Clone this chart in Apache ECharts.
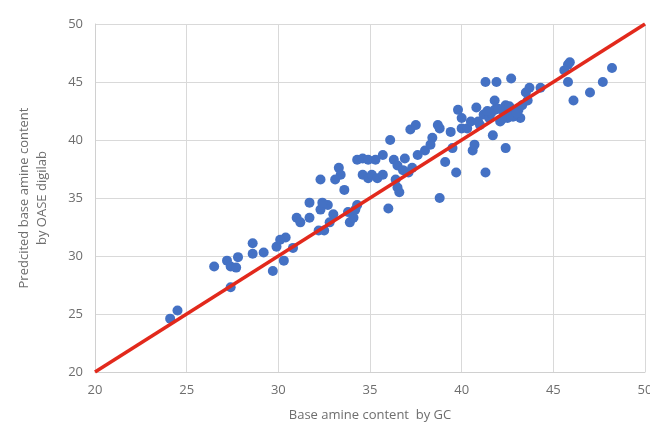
<!DOCTYPE html>
<html>
<head>
<meta charset="utf-8">
<script src="https://cdn.jsdelivr.net/npm/echarts@6/dist/echarts.min.js"></script>
<style>
  html, body { margin: 0; padding: 0; background: #fff; }
  #chart { width: 650px; height: 430px; }
</style>
</head>
<body>
<div id="chart"></div>
<script>
// 读图估计的数据：GC 测得值 vs OASE digilab 预测值
const gcValues = [
  24.1, 24.5, 27.4, 26.5, 27.2, 27.8, 27.4, 27.7, 28.6, 28.6, 29.2, 29.7, 29.9, 30.4, 30.3,
  30.1, 30.8, 31.0, 31.2, 31.7, 32.2, 32.3, 32.5, 32.7, 32.8, 33.0, 31.7, 32.4,
  33.3, 33.4, 33.1, 32.3, 33.6, 33.8, 33.9, 34.1, 34.2, 34.3,
  34.3, 34.6, 34.9, 35.3, 35.7, 34.6, 34.9, 35.1, 35.4, 35.7, 36.0, 36.1,
  36.4, 36.5, 36.6, 36.3, 36.5, 36.8, 37.1, 37.3, 36.9, 37.2, 37.5, 37.6,
  38.0, 38.3, 38.4, 38.7, 38.8, 38.8, 39.1, 39.4, 39.5, 39.7, 39.8, 40.0,
  40.0, 40.3, 40.5, 40.6, 40.7, 40.8, 41.0, 41.2, 41.3, 41.3, 41.5, 41.7,
  41.8, 41.8, 41.9, 42.1, 42.3, 42.4, 42.4, 42.5, 42.6, 42.7, 42.9, 43.1,
  43.2, 43.3, 43.5, 43.6, 43.7, 44.3, 45.6, 45.8, 45.9, 45.8, 46.1, 47.0,
  47.7, 48.2, 41.6, 42.0, 42.2, 42.8, 43.0, 41.4, 40.9, 42.6
]
const predictedValues = [
  24.6, 25.3, 27.3, 29.1, 29.6, 29.9, 29.1, 29.0, 31.1, 30.2, 30.3, 28.7, 30.8, 31.6, 29.6,
  31.4, 30.7, 33.3, 32.9, 33.3, 32.2, 34.0, 32.2, 34.4, 32.9, 33.6, 34.6, 34.6,
  37.6, 37.0, 36.6, 36.6, 35.7, 33.8, 32.9, 33.3, 34.0, 34.4,
  38.3, 38.4, 38.3, 38.3, 38.7, 37.0, 36.7, 37.0, 36.7, 37.0, 34.1, 40.0,
  36.6, 35.9, 35.5, 38.3, 37.8, 37.4, 37.2, 37.6, 38.4, 40.9, 41.3, 38.7,
  39.1, 39.6, 40.2, 41.3, 41.0, 35.0, 38.1, 40.7, 39.3, 37.2, 42.6, 41.9,
  41.0, 41.0, 41.6, 39.1, 39.6, 42.8, 41.3, 42.2, 45.0, 37.2, 41.9, 40.4,
  42.6, 43.4, 45.0, 41.6, 42.4, 39.3, 43.0, 41.9, 42.6, 45.3, 42.2, 42.6,
  41.9, 43.0, 44.1, 43.4, 44.5, 44.5, 46.0, 46.5, 46.7, 45.0, 43.4, 44.1,
  45.0, 46.2, 42.3, 42.7, 41.8, 42.0, 42.3, 42.5, 41.6, 42.9
]
const axisMin = 20
const axisMax = 50
const tickStep = 5
const parityLine = [[20, 20], [50, 50]]

const points = gcValues.map((x, i) => [x, predictedValues[i]])

const chart = echarts.init(document.getElementById('chart'))
const labelStyle = { color: '#6e6e6e', fontSize: 13, fontFamily: 'Open Sans' }

chart.setOption({
  animation: false,
  grid: { left: 95, right: 5, top: 24, bottom: 58, outerBoundsMode: 'none' },
  xAxis: {
    type: 'value',
    min: axisMin,
    max: axisMax,
    interval: tickStep,
    name: 'Base amine content  by GC',
    nameLocation: 'middle',
    nameGap: 37,
    nameTextStyle: labelStyle,
    axisLine: { lineStyle: { color: '#d0d0d0' } },
    axisTick: { show: false },
    axisLabel: Object.assign({ margin: 12 }, labelStyle),
    splitLine: { lineStyle: { color: '#d9d9d9' } },
  },
  yAxis: {
    type: 'value',
    min: axisMin,
    max: axisMax,
    interval: tickStep,
    name: 'Predcited base amine content\nby OASE digilab',
    nameLocation: 'middle',
    nameGap: 44,
    nameTextStyle: Object.assign({ lineHeight: 18 }, labelStyle),
    axisLine: { show: true, lineStyle: { color: '#d0d0d0' } },
    axisTick: { show: false },
    axisLabel: Object.assign({ margin: 12 }, labelStyle),
    splitLine: { lineStyle: { color: '#d9d9d9' } },
  },
  series: [
    {
      type: 'scatter',
      data: points,
      symbolSize: 10,
      itemStyle: { color: '#4471c4', opacity: 1 },
      z: 2,
    },
    {
      type: 'line',
      data: parityLine,
      symbol: 'none',
      lineStyle: { color: '#e2291c', width: 3.5 },
      z: 3,
    },
  ],
})
</script>
</body>
</html>
